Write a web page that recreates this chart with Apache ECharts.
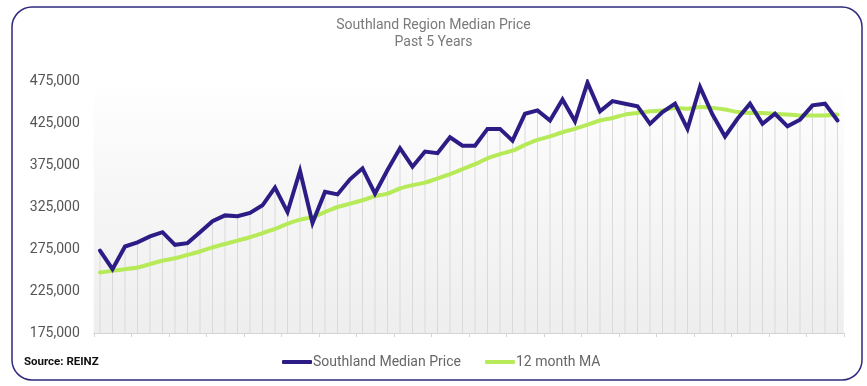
<!DOCTYPE html>
<html>
<head>
<meta charset="utf-8">
<script src="https://cdn.jsdelivr.net/npm/echarts@6/dist/echarts.min.js"></script>
<style>
html,body{margin:0;padding:0;background:#fff;}
#main{width:867px;height:386px;}
</style>
</head>
<body>
<div id="main"></div>
<script>
// Months over the past 5 years (60 monthly observations)
const categories = Array.from({length: 60}, (_, i) => 'M' + (i + 1));

const medianPrice = [
  273000, 251000, 278000, 283000, 290000, 295000, 280000, 282000, 295000, 308000,
  315000, 314000, 318000, 327000, 348000, 319000, 368000, 306000, 343000, 340000,
  358000, 371000, 341000, 369000, 395000, 373000, 391000, 389000, 408000, 398000,
  398000, 418000, 418000, 404000, 436000, 440000, 428000, 453000, 427000, 473000,
  439000, 451000, 448000, 445000, 424000, 438000, 448000, 418000, 468000, 435000,
  409000, 430000, 448000, 424000, 436000, 421000, 429000, 446000, 448000, 428000
];

const movingAvg = [
  247000, 249000, 251000, 253000, 257000, 261000, 264000, 268000, 272000, 277000,
  281000, 285000, 289000, 294000, 299000, 305000, 310000, 313000, 319000, 325000,
  329000, 333000, 338000, 341000, 347000, 351000, 354000, 359000, 364000, 370000,
  376000, 383000, 388000, 392000, 399000, 405000, 409000, 414000, 418000, 423000,
  428000, 431000, 435000, 437000, 439000, 440000, 443000, 442000, 444000, 443000,
  441000, 438000, 437000, 437000, 436000, 435000, 434000, 434000, 434000, 435000
];

const yTicks = [175000, 225000, 275000, 325000, 375000, 425000, 475000];

const chart = echarts.init(document.getElementById('main'), null, {renderer: 'canvas'});

const fontFamily = 'Roboto, "Noto Sans", sans-serif';

chart.setOption({
  backgroundColor: '#ffffff',
  animation: false,
  textStyle: {fontFamily: fontFamily},
  title: {
    text: 'Southland Region Median Price\nPast 5 Years',
    left: 'center',
    top: 12,
    textStyle: {
      fontSize: 14,
      fontWeight: 'normal',
      color: '#7a7a7a',
      lineHeight: 17,
      fontFamily: fontFamily
    }
  },
  graphic: [
    {
      type: 'rect',
      shape: {x: 12, y: 7, width: 850, height: 373, r: 20},
      style: {fill: 'none', stroke: '#2f2a7c', lineWidth: 1.5},
      z: 100,
      silent: true
    },
    {
      type: 'text',
      left: 24,
      top: 356,
      style: {
        text: 'Source: REINZ',
        fill: '#111',
        font: 'bold 11.5px ' + fontFamily
      }
    }
  ],
  legend: {
    bottom: 12,
    left: 277,
    itemGap: 24,
    itemWidth: 30,
    itemHeight: 4,
    icon: 'roundRect',
    textStyle: {fontSize: 14, color: '#666', padding: [0, 0, 0, -4]},
    data: ['Southland Median Price', '12 month MA']
  },
  grid: {
    left: 93.75,
    right: 23.25,
    top: 81,
    bottom: 53,
    show: true,
    borderWidth: 0,
    backgroundColor: {
      type: 'linear', x: 0, y: 0, x2: 0, y2: 1,
      colorStops: [
        {offset: 0, color: '#ffffff'},
        {offset: 0.35, color: '#f8f8f8'},
        {offset: 1, color: '#eeeeee'}
      ]
    }
  },
  xAxis: {
    type: 'category',
    data: categories,
    boundaryGap: true,
    axisLine: {show: true, lineStyle: {color: '#d4d4d4'}},
    axisTick: {show: true, length: 4, lineStyle: {color: '#d4d4d4'}},
    axisLabel: {show: false},
    splitLine: {show: false}
  },
  yAxis: {
    type: 'value',
    min: 175000,
    max: 475000,
    interval: 50000,
    axisLine: {show: false},
    axisTick: {show: false},
    splitLine: {show: false},
    axisLabel: {
      margin: 14,
      fontSize: 14,
      color: '#555',
      padding: [3, 0, 0, 0],
      formatter: v => yTicks.includes(v) ? v.toLocaleString('en-US') : ''
    }
  },
  series: [
    {
      name: 'drop',
      type: 'bar',
      data: medianPrice,
      barWidth: 1,
      itemStyle: {color: '#d9d9d9'},
      silent: true,
      z: 1
    },
    {
      name: '12 month MA',
      type: 'line',
      data: movingAvg,
      symbol: 'none',
      smooth: 0.2,
      lineStyle: {color: '#b6ea58', width: 4, cap: 'round'},
      itemStyle: {color: '#b6ea58'},
      z: 3
    },
    {
      name: 'Southland Median Price',
      type: 'line',
      data: medianPrice,
      symbol: 'none',
      lineStyle: {color: '#2c1c86', width: 4, join: 'miter', cap: 'round'},
      itemStyle: {color: '#2c1c86'},
      z: 4
    }
  ]
});
</script>
</body>
</html>
